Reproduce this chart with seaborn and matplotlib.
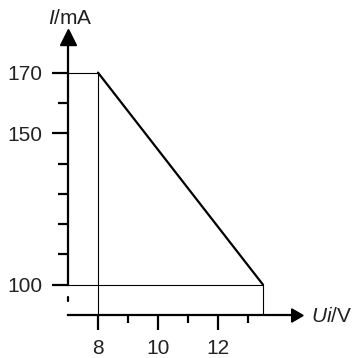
import matplotlib
matplotlib.use("Agg")
import matplotlib.pyplot as plt
import seaborn as sns
import pandas as pd

# data
voltage = [8, 13.5]
current = [170, 100]
x_major = [8, 10, 12]
x_minor = [9, 11, 13]
y_major = [100, 150, 170]
y_minor = [110, 120, 130, 140, 160]
x_label = "Ui/V"
y_label = "I/mA"

sns.set_theme(style="white")
plt.rcParams['font.family'] = ['Liberation Sans', 'DejaVu Sans']
plt.rcParams['mathtext.fontset'] = 'custom'
plt.rcParams['mathtext.rm'] = 'Liberation Sans'
plt.rcParams['mathtext.it'] = 'Liberation Sans:italic'

W, H = 354, 358
fig = plt.figure(figsize=(W / 100, H / 100), dpi=100)
L, R, B, T = 68, 295, 315, 37
ax = fig.add_axes([L / W, (H - B) / H, (R - L) / W, (B - T) / H])
ax.set_xlim(7, 7 + (R - L) / 30.0)
ax.set_ylim(90, 90 + (B - T) / 3.03)
ax.patch.set_alpha(0)

df = pd.DataFrame({"U": voltage, "I": current})
sns.lineplot(data=df, x="U", y="I", ax=ax, color="black", linewidth=1.6)

thin = dict(color="black", linewidth=0.8)
ax.plot([7, voltage[0]], [current[0], current[0]], **thin)
ax.plot([voltage[0], voltage[0]], [90, current[0]], **thin)
ax.plot([7, voltage[1]], [current[1], current[1]], **thin)
ax.plot([voltage[1], voltage[1]], [90, current[1]], **thin)

for s in ["top", "right"]:
    ax.spines[s].set_visible(False)
ax.spines["left"].set_bounds(100, ax.get_ylim()[1])
ax.spines["left"].set_linewidth(1.6)
ax.spines["bottom"].set_linewidth(1.6)
ax.spines["left"].set_color("black")
ax.spines["bottom"].set_color("black")
# axis break dash
ax.plot([7, 7], [94.5, 96.1], color="black", linewidth=1.6, clip_on=False)
# arrows
ax.plot(1, 0, marker=(3, 0, -90), markersize=11, color="black",
        transform=ax.transAxes, clip_on=False)
ax.plot(0, 1, marker="^", markersize=11, color="black",
        transform=ax.transAxes, clip_on=False)

ax.set_xticks(x_major)
ax.set_xticks(x_minor, minor=True)
ax.set_yticks(y_major)
ax.set_yticks(y_minor, minor=True)
ax.tick_params(axis="x", which="major", direction="out", length=11, width=1.6,
               color="black", labelsize=15, labelcolor="#222222", pad=6, bottom=True)
ax.tick_params(axis="x", which="minor", direction="out", length=6, width=1.6,
               color="black", bottom=True)
ax.tick_params(axis="y", which="major", direction="out", length=11.5, width=1.6,
               color="black", labelsize=15, labelcolor="#222222", pad=7, left=True)
ax.tick_params(axis="y", which="minor", direction="out", length=7, width=1.6,
               color="black", left=True)
ax.set_xlabel("")
ax.set_ylabel("")

fig.text(70 / W, 1 - 18 / H, r"$\mathit{I}$/mA", ha="center", va="center",
         fontsize=15, color="#222222")
fig.text(332 / W, 1 - 317 / H, r"$\mathit{Ui}$/V", ha="center", va="center",
         fontsize=15, color="#222222")

fig.savefig("out.png", dpi=100)
